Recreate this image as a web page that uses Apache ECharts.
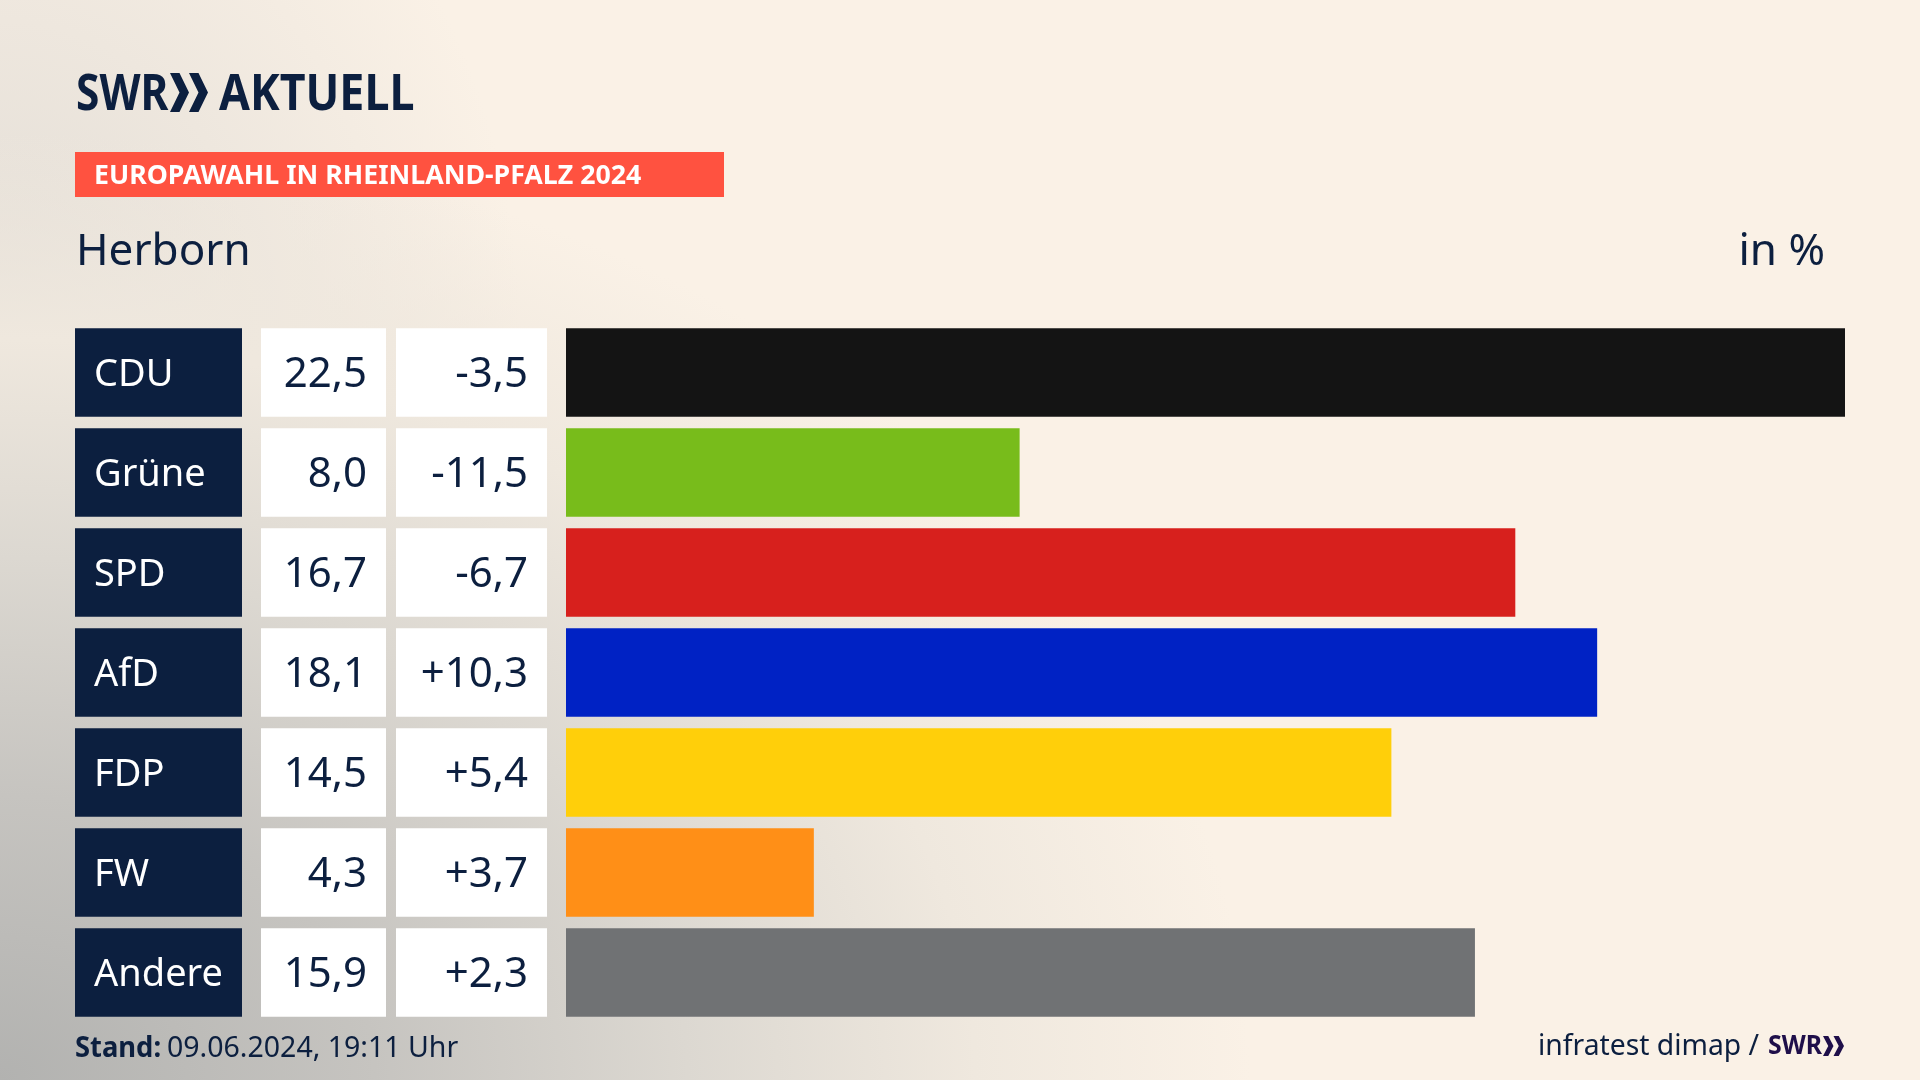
<!DOCTYPE html>
<html>
<head>
<meta charset="utf-8">
<title>Europawahl Herborn</title>
<style>
	html,body{
		margin:0;
		height:100%;
		overflow:hidden;
		background-color:#faf1e6;
		background-image:
			radial-gradient(ellipse 1250px 950px at 0 1080px, #b2b2b0 0%, #c6c4c0 30%, #dcd8d1 55%, #efe8de 78%, rgba(250,241,230,0) 100%),
			radial-gradient(ellipse 520px 620px at 0 330px, #e2ddd6 0%, rgba(250,241,230,0) 100%);
	}
	#main{width:1920px;height:1080px;}
</style>
</head>
<body>
<div id="main"></div>
<script src="https://cdn.jsdelivr.net/npm/echarts@6/dist/echarts.min.js"></script>
<script>
var parties = ['CDU','Grüne','SPD','AfD','FDP','FW','Andere'];
var shares = [22.5,8.0,16.7,18.1,14.5,4.3,15.9];
var changes = [-3.5,-11.5,-6.7,10.3,5.4,3.7,2.3];
// lengths as drawn in the picture, a little off the rounded labels
var barLengths = [22.5,7.98,16.7,18.14,14.52,4.36,15.99];
var barColors = ['#141414','#78bc1b','#d7201d','#0022c4','#ffcf0a','#ff8f17','#707274'];
var navy = '#0c1f3f';
var font = '"Noto Sans"';

function comma(v){
	return v.toFixed(1).replace('.',',');
}
function signed(v){
	return (v>0?'+':'')+comma(v);
}

// the three table columns are full width bars, one grid per column
var columns = [
	{left:75,width:167,color:navy,text:'#ffffff',pos:'insideLeft',fmt:function(i){return parties[i];}},
	{left:261,width:125,color:'#ffffff',text:navy,pos:'insideRight',fmt:function(i){return comma(shares[i]);}},
	{left:396,width:151,color:'#ffffff',text:navy,pos:'insideRight',fmt:function(i){return signed(changes[i]);}}
];

var grids=[],xAxes=[],yAxes=[],series=[];
columns.forEach(function(c,n){
	grids.push({left:c.left,width:c.width,top:322.5,height:700});
	xAxes.push({type:'value',gridIndex:n,min:0,max:1,show:false});
	yAxes.push({type:'category',gridIndex:n,inverse:true,data:parties,show:false});
	series.push({
		type:'bar',
		xAxisIndex:n,
		yAxisIndex:n,
		barWidth:88.5,
		data:parties.map(function(){return 1;}),
		itemStyle:{color:c.color},
		label:{
			show:true,
			position:c.pos,
			distance:19,
			offset:[0,3],
			color:c.text,
			fontFamily:font,
			fontSize:n==0?38:42,
			formatter:function(p){return c.fmt(p.dataIndex);}
		}
	});
});

// result bars
grids.push({left:566,width:1279,top:322.5,height:700});
xAxes.push({type:'value',gridIndex:3,min:0,max:22.5,show:false});
yAxes.push({type:'category',gridIndex:3,inverse:true,data:parties,show:false});
series.push({
	type:'bar',
	xAxisIndex:3,
	yAxisIndex:3,
	barWidth:88.5,
	data:barLengths.map(function(v,i){
		return {value:v,itemStyle:{color:barColors[i]}};
	})
});

function txt(x,y,s,size,color,weight,align,sx){
	return {
		type:'text',x:x,y:y,scaleX:sx||1,
		style:{text:s,fill:color,fontFamily:font,fontSize:size,fontWeight:weight||'normal',textAlign:align||'left',textVerticalAlign:'middle'}
	};
}
function chevrons(x,y,w,h,color){
	// the two arrows of the SWR logo
	var t=w*0.5,g=w*0.5;
	return [0,g].map(function(dx){
		return {
			type:'polygon',
			shape:{points:[[x+dx,y],[x+dx+t*0.5,y],[x+dx+t,y+h/2],[x+dx+t*0.5,y+h],[x+dx,y+h],[x+dx+t*0.5,y+h/2]]},
			style:{fill:color}
		};
	});
}

var graphics=[
	txt(76,96,'SWR',50,navy,'bold','left',0.85),
	txt(219,96,'AKTUELL',50,navy,'bold','left',0.895),
	{type:'rect',shape:{x:75,y:152,width:649,height:45},style:{fill:'#ff5240'}},
	txt(94,176,'EUROPAWAHL IN RHEINLAND-PFALZ 2024',27,'#ffffff','bold','left',0.99),
	txt(76,252,'Herborn',44,navy),
	txt(1825,252,'in %',44,navy,'normal','right'),
	txt(75,1049,'Stand:',28.5,navy,'bold','left',0.96),
	txt(167,1049,'09.06.2024, 19:11 Uhr',28.5,navy),
	txt(1538,1047,'infratest dimap /',28.3,navy),
	txt(1768,1046,'SWR',27,'#1f0f4a','bold','left',0.92)
].concat(chevrons(170,73,38,39,navy)).concat(chevrons(1823,1036,21,20,'#1f0f4a'));

var myChart=echarts.init(document.getElementById('main'),null,{width:1920,height:1080});
myChart.setOption({
	animation:false,
	grid:grids,
	xAxis:xAxes,
	yAxis:yAxes,
	series:series,
	graphic:graphics
});
</script>
</body>
</html>
